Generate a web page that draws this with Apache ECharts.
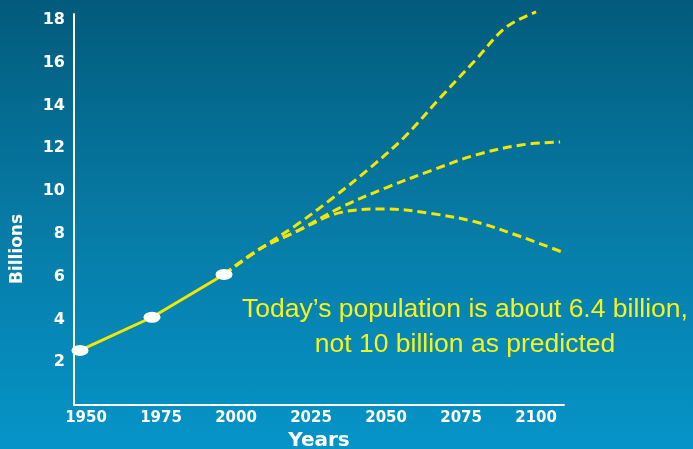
<!DOCTYPE html>
<html>
<head>
<meta charset="utf-8">
<script src="https://cdn.jsdelivr.net/npm/echarts@6/dist/echarts.min.js"></script>
<style>
    html, body { margin: 0; padding: 0; }
    body { background: linear-gradient(to bottom, #025b7c 0%, #077ba6 50%, #0594c8 100%); }
    #chart { width: 693px; height: 449px; }
</style>
</head>
<body>
<div id="chart"></div>
<script>
// tick labels
const yearTicks = [1950, 1975, 2000, 2025, 2050, 2075, 2100]
const billionTicks = [2, 4, 6, 8, 10, 12, 14, 16, 18]

// measured points (year, billions)
const pastYears = [1948, 1972, 1996]
const pastValues = [2.55, 4.1, 6.1]

// projections
const highYears = [1996, 2008, 2020, 2032, 2044, 2056, 2068, 2080, 2090, 2100]
const highValues = [6.1, 7.3, 8.4, 9.65, 11.0, 12.5, 14.35, 16.15, 17.65, 18.37]
const midYears = [1996, 2008, 2020, 2035, 2050, 2065, 2080, 2095, 2108]
const midValues = [6.1, 7.3, 8.1, 9.24, 10.15, 10.95, 11.69, 12.15, 12.29]
const lowYears = [1996, 2008, 2020, 2035, 2050, 2065, 2080, 2095, 2109]
const lowValues = [6.1, 7.3, 8.1, 9.0, 9.16, 8.95, 8.55, 7.86, 7.13]

const zip = (xs, ys) => xs.map((x, i) => [x, ys[i]])

const yellow = '#f3e600'
const chart = echarts.init(document.getElementById('chart'))

const dashed = (name, xs, ys) => ({
    name: name,
    type: 'line',
    smooth: 0.35,
    symbol: 'none',
    clip: false,
    lineStyle: { color: yellow, width: 3, type: [9, 5] },
    data: zip(xs, ys),
    z: 2
})

const option = {
    backgroundColor: 'transparent',
    animation: false,
    grid: { left: 74, right: 129, top: 14, bottom: 44, outerBoundsMode: 'none' },
    xAxis: {
        type: 'value',
        min: 1946,
        max: 2109.3,
        name: 'Years',
        nameLocation: 'middle',
        nameGap: 24,
        nameTextStyle: { color: '#fff', fontFamily: 'DejaVu Sans', fontWeight: 'bold', fontSize: 20 },
        axisLine: { show: true, lineStyle: { color: '#fff', width: 2 } },
        axisTick: { show: false },
        splitLine: { show: false },
        axisLabel: {
            customValues: yearTicks,
            formatter: v => String(v),
            color: '#fff',
            fontFamily: 'DejaVu Sans',
            fontWeight: 'bold',
            fontSize: 15,
            margin: 6
        }
    },
    yAxis: {
        type: 'value',
        min: 0,
        max: 18.27,
        axisLine: { show: true, lineStyle: { color: '#fff', width: 2 } },
        axisTick: { show: false },
        splitLine: { show: false },
        axisLabel: {
            customValues: billionTicks,
            color: '#fff',
            fontFamily: 'DejaVu Sans',
            fontWeight: 'bold',
            fontSize: 16,
            margin: 9
        }
    },
    graphic: [{
        type: 'text',
        x: 18,
        y: 249,
        rotation: Math.PI / 2,
        style: {
            text: 'Billions',
            fill: '#fff',
            font: 'bold 17px "DejaVu Sans"',
            textAlign: 'center',
            textVerticalAlign: 'middle'
        }
    }, {
        type: 'text',
        x: 465,
        y: 327,
        style: {
            text: 'Today\u2019s population is about 6.4 billion,\nnot 10 billion as predicted',
            fill: '#f7f21c',
            font: '26.5px "Liberation Sans"',
            lineHeight: 35,
            textAlign: 'center',
            textVerticalAlign: 'middle'
        }
    }],
    series: [
        dashed('High', highYears, highValues),
        dashed('Medium', midYears, midValues),
        dashed('Low', lowYears, lowValues),
        {
            name: 'Actual',
            type: 'line',
            symbol: 'circle',
            symbolSize: [17, 11],
            showAllSymbol: true,
            itemStyle: { color: '#fff' },
            lineStyle: { color: yellow, width: 3 },
            data: zip(pastYears, pastValues),
            z: 5
        }
    ]
}
chart.setOption(option)
</script>
</body>
</html>
